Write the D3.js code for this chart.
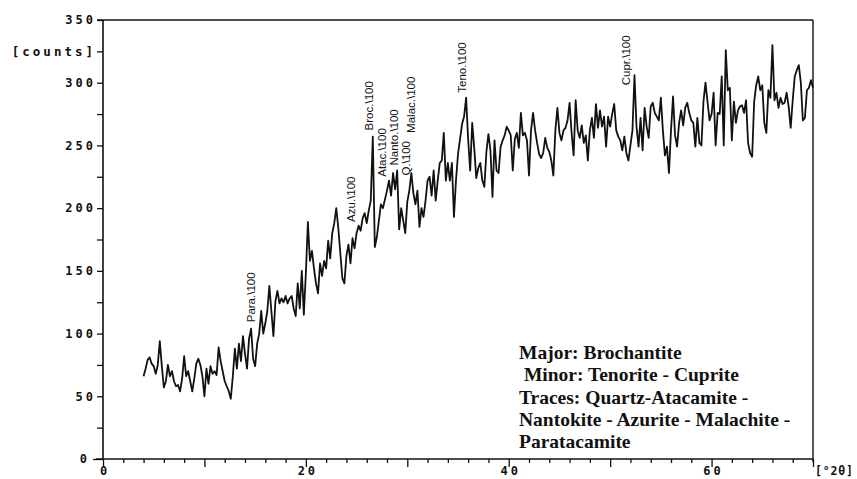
<!DOCTYPE html>
<html>
<head>
<meta charset="utf-8">
<script src="https://cdn.jsdelivr.net/npm/d3@7"></script>
<style>
  body { margin: 0; background: #fff; }
  .ax text { font-family: "DejaVu Sans Mono", monospace; font-weight: bold; font-size: 12px; letter-spacing: 3px; fill: #111; }
  .ax line { stroke: #111; stroke-width: 1.3; }
</style>
</head>
<body>
<svg id="svg" width="857" height="479"></svg>
<script>
// scan start / step in degrees 2theta
const startAngle = 4
const stepAngle = 0.2
const counts = [
  66,72,79,81,76,74,68,75,94,74,57,62,75,66,70,62,58,59,54,64,
  82,66,70,62,54,64,76,80,75,66,50,72,60,74,68,70,67,89,78,70,
  62,58,54,48,66,88,72,92,78,98,84,72,96,104,80,74,92,100,118,100,
  108,118,138,118,98,126,134,124,128,125,130,124,128,130,120,114,140,120,150,115,
  148,189,158,166,152,140,132,156,146,158,152,174,160,180,188,200,184,164,144,140,
  162,171,156,176,168,180,186,182,192,196,188,198,206,257,169,177,190,203,200,207,
  214,222,210,228,215,230,183,200,190,180,205,214,228,212,203,214,185,200,193,206,
  222,225,210,230,206,222,236,238,260,222,236,222,236,193,222,243,255,267,273,288,
  255,230,268,248,224,232,236,222,217,245,259,246,209,254,230,228,249,254,258,265,
  262,258,230,255,260,248,276,258,260,254,226,262,276,262,252,243,240,244,256,248,
  245,238,226,262,280,260,254,262,264,270,284,260,242,286,262,256,266,252,258,238,
  262,272,256,283,264,278,265,273,249,273,265,275,283,262,257,254,246,257,244,238,
  250,262,306,265,249,272,246,280,265,256,281,284,276,273,270,288,262,242,249,228,
  262,289,258,249,268,278,266,280,284,276,270,268,249,272,252,250,285,300,285,270,
  275,292,250,276,275,305,250,326,294,296,254,285,268,278,281,282,276,286,252,244,
  241,285,298,305,294,298,268,260,294,288,330,286,292,280,288,283,284,292,281,264,
  286,305,310,314,300,270,272,294,296,302,296
]

const yTicks = d3.range(0, 351, 25)
const xTicks = d3.range(0, 71, 2)
const xLabels = [0, 20, 40, 60]

// phase markers
const peakNames = ['Para.\\100', 'Azu.\\100', 'Broc.\\100', 'Atac.\\100', 'Nanto.\\100', 'Q.\\100', 'Malac.\\100', 'Teno.\\100', 'Cupr.\\100']
const peakAngles = [14.6, 24.4, 26.2, 27.5, 28.7, 29.9, 30.4, 35.4, 51.6]
const peakLabelAt = [109, 189, 262, 225, 234, 226, 260, 292, 298]

const notes = [
  'Major: Brochantite',
  ' Minor: Tenorite - Cuprite',
  'Traces: Quartz-Atacamite -',
  'Nantokite - Azurite - Malachite -',
  'Paratacamite'
]

const svg = d3.select('#svg')
const x = d3.scaleLinear().domain([0, 70]).range([103, 813])
const y = d3.scaleLinear().domain([0, 350]).range([459, 20])

const pts = counts.map((c, i) => [startAngle + i * stepAngle, c])

// y axis
const yAxis = svg.append('g').attr('class', 'ax')
  .attr('transform', 'translate(103,0)')
  .call(d3.axisLeft(y).tickValues(yTicks).tickSize(6).tickPadding(2)
    .tickFormat(d => d === 325 ? '[counts]' : (d % 50 === 0 ? d : '')))
yAxis.select('.domain').remove()
yAxis.selectAll('.tick text').attr('dx', 1)
yAxis.selectAll('.tick').filter(d => d === 325).select('text').style('font-size', '12.5px')
yAxis.selectAll('.tick').filter(d => d === 0).select('line').attr('x2', -10)
yAxis.selectAll('.tick').filter(d => d === 0).select('text').attr('dx', -5)

// x axis
const xAxis = svg.append('g').attr('class', 'ax')
  .attr('transform', 'translate(0,459)')
  .call(d3.axisBottom(x).tickValues(xTicks).tickSize(4).tickPadding(3)
    .tickFormat(d => xLabels.includes(d) ? d : ''))
xAxis.select('.domain').remove()
xAxis.selectAll('.tick').filter(d => d % 10 === 0).select('line').attr('y2', 8)
xAxis.selectAll('.tick text').attr('dx', 1.5)

// frame
svg.append('line').attr('x1', 96).attr('x2', 813).attr('y1', y(0)).attr('y2', y(0)).attr('stroke', '#111').attr('stroke-width', 1.4)
svg.append('line').attr('x1', 103).attr('x2', 103).attr('y1', y(350)).attr('y2', y(0)).attr('stroke', '#111').attr('stroke-width', 1.6)
svg.append('line').attr('x1', 97).attr('x2', 813).attr('y1', y(350)).attr('y2', y(350)).attr('stroke', '#111').attr('stroke-width', 1.4)
svg.append('line').attr('x1', 813).attr('x2', 813).attr('y1', y(350)).attr('y2', y(0) + 3).attr('stroke', '#111').attr('stroke-width', 1.4)

svg.append('text')
  .attr('x', 815).attr('y', 475)
  .style('font-family', '"DejaVu Sans Mono", monospace').style('font-weight', 'bold')
  .style('font-size', '11.5px').style('letter-spacing', '0.8px').attr('fill', '#111')
  .text('[°2θ]')

// pattern
svg.append('path')
  .datum(pts)
  .attr('fill', 'none')
  .attr('stroke', '#111')
  .attr('stroke-width', 1.8)
  .attr('stroke-linejoin', 'round')
  .attr('d', d3.line().x(d => x(d[0])).y(d => y(d[1])))

// peak labels
svg.append('g').selectAll('text')
  .data(peakNames)
  .enter()
  .append('text')
  .attr('transform', (d, i) => `translate(${x(peakAngles[i])},${y(peakLabelAt[i])}) rotate(-90)`)
  .attr('dy', '0.35em')
  .style('font-family', '"Liberation Sans", Arial, sans-serif')
  .style('font-size', '11.5px')
  .attr('fill', '#111')
  .text(d => d)

// phase notes
svg.append('g').selectAll('text')
  .data(notes)
  .enter()
  .append('text')
  .attr('x', 519)
  .attr('y', (d, i) => 359 + i * 22.3)
  .attr('xml:space', 'preserve')
  .style('white-space', 'pre')
  .style('font-family', '"Liberation Serif", "Times New Roman", serif')
  .style('font-weight', 'bold')
  .style('font-size', '19.5px')
  .attr('fill', '#111')
  .text(d => d)
</script>
</body>
</html>
